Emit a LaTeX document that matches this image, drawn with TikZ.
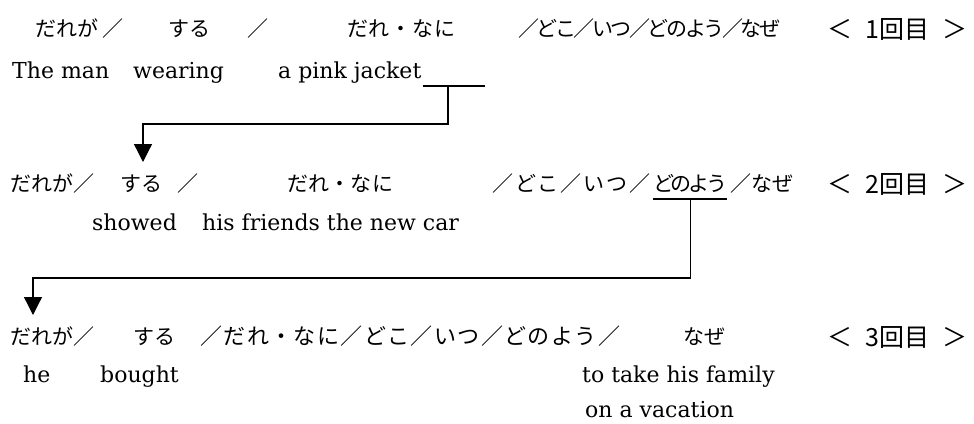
\documentclass[tikz,border=0pt]{standalone}
\usepackage{fontspec}
\setmainfont{DejaVu Serif}
\newfontfamily\jpfont{Noto Sans CJK JP}
\usetikzlibrary{arrows.meta,calc}
\XeTeXinterchartokenstate=1
\newcount\cjkcnt
\cjkcnt="3040 \loop \XeTeXcharclass\cjkcnt=5 \advance\cjkcnt by 1 \ifnum\cjkcnt<"3100 \repeat
\cjkcnt="FF01 \loop \XeTeXcharclass\cjkcnt=5 \advance\cjkcnt by 1 \ifnum\cjkcnt<"FF5F \repeat
\XeTeXinterchartoks 5 5 = {\hskip 0pt plus 30pt minus 4pt\relax}
\newcommand\fitjp[2]{\makebox[#1][s]{#2}}
\newcommand\roundlabel[1]{\makebox[140pt][s]{＜\hfill\hbox{#1回目}\hfill＞}}
\begin{document}
\begin{tikzpicture}[x=1pt,y=-1pt,
  jpt/.style={font=\jpfont\fontsize{21}{23}\selectfont, inner sep=0pt, anchor=base west},
  jpl/.style={font=\jpfont\fontsize{22}{24}\selectfont, inner sep=0pt, anchor=base west},
  lbl/.style={font=\jpfont\fontsize{25}{27}\selectfont, inner sep=0pt, anchor=base west},
  ent/.style={font=\fontsize{22}{24}\selectfont, inner sep=0pt, anchor=base west},
  conn/.style={line width=1.3pt, -{Triangle[width=18pt,length=18pt]}},
  uline/.style={line width=1.3pt}]
\useasboundingbox[fill=white] (0,0) rectangle (974,423);

% row 1
\node[jpt] (r1a) at (35,36) {だれが};
\node[jpt] (r1b) at (102,36) {／};
\node[jpt] (r1c) at (168,36) {する};
\node[jpt] (r1d) at (247,36) {／};
\node[jpt] (r1e) at (347,36) {\fitjp{108pt}{だれ・なに}};
\node[jpt] (r1f) at (518,36) {\fitjp{262pt}{／どこ／いつ／どのよう／なぜ}};
\node[lbl] (r1g) at (827,38) {\roundlabel{1}};
\node[ent] (r1h) at (12,78) {The man};
\node[ent] (r1i) at (133,78) {wearing};
\node[ent] (r1j) at (278,78) {a pink jacket};

% row 2
\node[jpt] (r2a) at (10,191) {だれが／};
\node[jpt] (r2b) at (120,191) {する};
\node[jpt] (r2c) at (177,191) {／};
\node[jpt] (r2d) at (287,191) {\fitjp{106pt}{だれ・なに}};
\node[jpt] (r2e) at (492,191) {\fitjp{158pt}{／どこ／いつ／}};
\node[jpt] (r2f) at (653,191) {\fitjp{74pt}{どのよう}};
\node[jpt] (r2g) at (730,191) {／なぜ};
\node[lbl] (r2h) at (827,193) {\roundlabel{2}};
\node[ent] (r2i) at (92,230) {showed};
\node[ent] (r2j) at (202,230) {his friends the new car};

% row 3
\node[jpt] (r3a) at (10,344) {だれが／};
\node[jpt] (r3b) at (133,344) {する};
\node[jpl] (r3c) at (200,344) {\fitjp{420pt}{／だれ・なに／どこ／いつ／どのよう／}};
\node[jpt] (r3d) at (683,344) {なぜ};
\node[lbl] (r3e) at (827,346) {\roundlabel{3}};
\node[ent] (r3f) at (23,382) {he};
\node[ent] (r3g) at (100,382) {bought};
\node[ent] (r3h) at (582,382) {to take his family};
\node[ent] (r3i) at (585,417) {on a vacation};

% connector 1
\coordinate (u1a) at (423,86);
\coordinate (u1b) at (485,86);
\coordinate (u1m) at (448,86);
\coordinate (t1) at (143,162);
\draw[uline] (u1a) -- (u1b);
\draw[conn] (u1m) -- ++(0,38) -| (t1);

% connector 2
\coordinate (u2a) at ([yshift=-8pt]r2f.base west);
\coordinate (u2b) at ([yshift=-8pt]r2f.base east);
\coordinate (u2m) at ($(u2a)!0.5!(u2b)$);
\coordinate (t2) at (33,315);
\draw[uline] (u2a) -- (u2b);
\draw[conn] (u2m) -- (u2m |- 0,278) -| (t2);
\end{tikzpicture}
\end{document}
